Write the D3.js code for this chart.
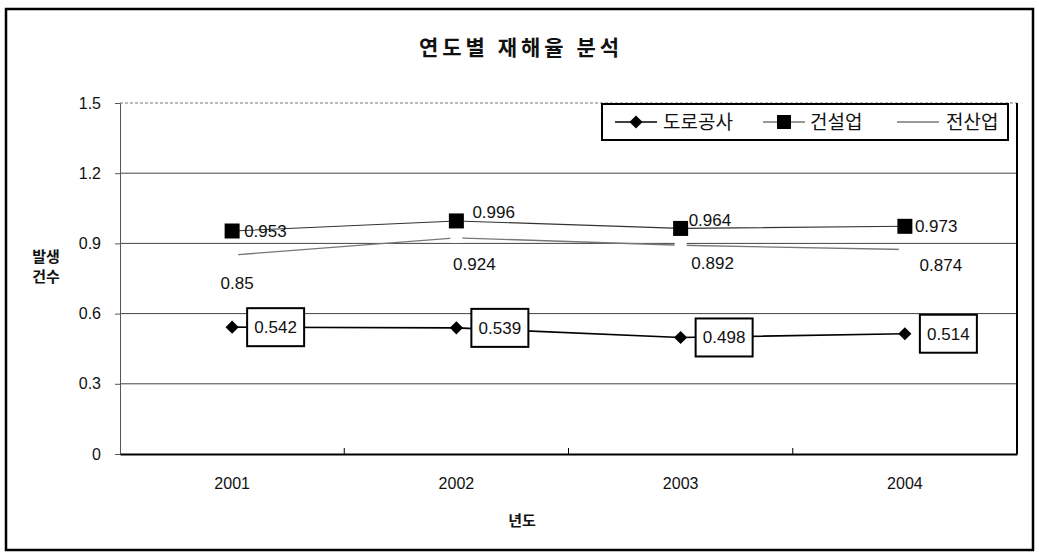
<!DOCTYPE html>
<html>
<head>
<meta charset="utf-8">
<script src="https://cdn.jsdelivr.net/npm/d3@7"></script>
<style>
  html, body { margin: 0; padding: 0; background: #fff; }
  svg { display: block; }
  text { font-family: "Liberation Sans", Arial, sans-serif; fill: #111; }
  .kr { font-family: "Noto Sans CJK KR", sans-serif; }
</style>
</head>
<body>
<svg id="chart" width="1039" height="555"></svg>
<script>
// 연도별 재해율 데이터
const years = ["2001", "2002", "2003", "2004"];
const roadWork = [0.542, 0.539, 0.498, 0.514];      // 도로공사
const construction = [0.953, 0.996, 0.964, 0.973];  // 건설업
const allIndustry = [0.85, 0.924, 0.892, 0.874];    // 전산업
const yTicks = [0, 0.3, 0.6, 0.9, 1.2, 1.5];
const seriesNames = ["도로공사", "건설업", "전산업"];

// label placement (dx, dy from the point)
const constructionLabelOffset = [[12, 0], [16, -9], [8, -8], [10, 0]];
const allIndustryLabelOffset = [[5, 28], [18, 26], [32, 18], [36, 16]];

const svg = d3.select("#chart");
const margin = { left: 120, right: 1017, top: 103, bottom: 454 };

const x = d3.scaleBand().domain(years).range([margin.left, margin.right]);
const y = d3.scaleLinear().domain([0, 1.5]).range([margin.bottom, margin.top]);
const cx = d => x(d) + x.bandwidth() / 2;

// outer frame
svg.append("rect").attr("x", 6).attr("y", 9).attr("width", 1027).attr("height", 541)
  .attr("fill", "none").attr("stroke", "#000").attr("stroke-width", 2.5);

// title
svg.append("text").attr("class", "kr")
  .attr("x", 521).attr("y", 55).attr("text-anchor", "middle")
  .attr("font-size", 21).attr("font-weight", "bold").attr("letter-spacing", 4)
  .text("연도별 재해율 분석");

// horizontal gridlines
svg.append("g").selectAll("line").data(yTicks.filter(t => t > 0 && t < 1.5)).join("line")
  .attr("x1", margin.left).attr("x2", margin.right)
  .attr("y1", d => y(d)).attr("y2", d => y(d))
  .attr("stroke", "#444").attr("stroke-width", 1);
// top line
svg.append("line").attr("x1", margin.left).attr("x2", margin.right)
  .attr("y1", y(1.5)).attr("y2", y(1.5))
  .attr("stroke", "#777").attr("stroke-width", 1).attr("stroke-dasharray", "3,2");
// right border
svg.append("line").attr("x1", margin.right).attr("x2", margin.right)
  .attr("y1", y(1.5)).attr("y2", y(0))
  .attr("stroke", "#000").attr("stroke-width", 2);

// y axis
const yAxis = d3.axisLeft(y).tickValues(yTicks).tickSize(5).tickPadding(14)
  .tickFormat(d => d === 0 ? "0" : d3.format(".1f")(d));
const gy = svg.append("g").attr("transform", `translate(${margin.left},0)`).call(yAxis);
gy.select(".domain").attr("stroke", "#555").attr("stroke-width", 1);
gy.selectAll(".tick line").attr("stroke", "#555");
gy.selectAll("text").attr("font-size", 16).attr("font-family", "Liberation Sans, Arial, sans-serif").attr("fill", "#111");

// x axis
const xAxis = d3.axisBottom(x).tickSize(0).tickPadding(24);
const gx = svg.append("g").attr("transform", `translate(0,${margin.bottom})`).call(xAxis);
gx.select(".domain").attr("stroke", "#000").attr("stroke-width", 2);
gx.selectAll("text").attr("font-size", 16).attr("font-family", "Liberation Sans, Arial, sans-serif").attr("fill", "#111");
// category separators
svg.append("g").selectAll("line").data(years.slice(1)).join("line")
  .attr("x1", d => x(d)).attr("x2", d => x(d))
  .attr("y1", margin.bottom).attr("y2", margin.bottom - 6)
  .attr("stroke", "#000").attr("stroke-width", 1);

// axis titles
svg.append("text").attr("class", "kr").attr("x", 46).attr("y", 262)
  .attr("text-anchor", "middle").attr("font-size", 15).attr("font-weight", "bold").text("발생");
svg.append("text").attr("class", "kr").attr("x", 46).attr("y", 282)
  .attr("text-anchor", "middle").attr("font-size", 15).attr("font-weight", "bold").text("건수");
svg.append("text").attr("class", "kr").attr("x", 522).attr("y", 526)
  .attr("text-anchor", "middle").attr("font-size", 15).attr("font-weight", "bold").text("년도");

const line = d3.line().x((d, i) => cx(years[i])).y(d => y(d));

// 전산업 line
svg.append("path").datum(allIndustry).attr("d", line)
  .attr("fill", "none").attr("stroke", "#777").attr("stroke-width", 1.3);
// its (white) point markers
svg.append("g").selectAll("rect").data(allIndustry).join("rect")
  .attr("x", (d, i) => cx(years[i]) - 6).attr("y", d => y(d) - 5)
  .attr("width", 12).attr("height", 10).attr("fill", "#fff");

// 건설업 line
svg.append("path").datum(construction).attr("d", line)
  .attr("fill", "none").attr("stroke", "#333").attr("stroke-width", 1.1);

// 도로공사 line
svg.append("path").datum(roadWork).attr("d", line)
  .attr("fill", "none").attr("stroke", "#000").attr("stroke-width", 1.6);

// 건설업 square markers
svg.append("g").selectAll("rect").data(construction).join("rect")
  .attr("x", (d, i) => cx(years[i]) - 7.5).attr("y", d => y(d) - 7.5)
  .attr("width", 15).attr("height", 15).attr("fill", "#000");

// 도로공사 diamond markers
const diamond = d3.symbol().type(d3.symbolDiamond2).size(110);
svg.append("g").selectAll("path").data(roadWork).join("path")
  .attr("d", diamond)
  .attr("transform", (d, i) => `translate(${cx(years[i])},${y(d)})`)
  .attr("fill", "#000");

// 건설업 labels
svg.append("g").selectAll("text").data(construction).join("text")
  .attr("x", (d, i) => cx(years[i]) + constructionLabelOffset[i][0])
  .attr("y", (d, i) => y(d) + constructionLabelOffset[i][1])
  .attr("dy", "0.35em").attr("font-size", 17)
  .text(d => d3.format(".3f")(d));

// 전산업 labels
svg.append("g").selectAll("text").data(allIndustry).join("text")
  .attr("x", (d, i) => cx(years[i]) + allIndustryLabelOffset[i][0])
  .attr("y", (d, i) => y(d) + allIndustryLabelOffset[i][1])
  .attr("dy", "0.35em").attr("text-anchor", "middle").attr("font-size", 17)
  .text(d => String(d));

// 도로공사 boxed labels
const boxes = svg.append("g").selectAll("g").data(roadWork).join("g")
  .attr("transform", (d, i) => `translate(${cx(years[i]) + 15},${y(d)})`);
boxes.append("rect").attr("x", 0).attr("y", -19).attr("width", 57).attr("height", 38)
  .attr("fill", "#fff").attr("stroke", "#000").attr("stroke-width", 2);
boxes.append("text").attr("x", 28.5).attr("y", 0).attr("dy", "0.35em")
  .attr("text-anchor", "middle").attr("font-size", 17)
  .text(d => d3.format(".3f")(d));

// legend
const legend = svg.append("g");
legend.append("rect").attr("x", 602).attr("y", 104).attr("width", 406).attr("height", 36)
  .attr("fill", "#fff").attr("stroke", "#000").attr("stroke-width", 2);
const legendItems = [
  { name: seriesNames[0], x0: 615, tx: 663, stroke: "#000", w: 1.6, marker: "diamond" },
  { name: seriesNames[1], x0: 763, tx: 810, stroke: "#333", w: 1.1, marker: "square" },
  { name: seriesNames[2], x0: 897, tx: 946, stroke: "#777", w: 1.3, marker: null }
];
const ly = 122;
legendItems.forEach(it => {
  legend.append("line").attr("x1", it.x0).attr("x2", it.x0 + 42)
    .attr("y1", ly).attr("y2", ly).attr("stroke", it.stroke).attr("stroke-width", it.w);
  if (it.marker === "diamond") {
    legend.append("path").attr("d", diamond).attr("transform", `translate(${it.x0 + 21},${ly})`).attr("fill", "#000");
  } else if (it.marker === "square") {
    legend.append("rect").attr("x", it.x0 + 21 - 7).attr("y", ly - 7).attr("width", 14).attr("height", 14).attr("fill", "#000");
  }
  legend.append("text").attr("class", "kr").attr("x", it.tx).attr("y", ly).attr("dy", "0.35em")
    .attr("font-size", 19).text(it.name);
});
</script>
</body>
</html>
